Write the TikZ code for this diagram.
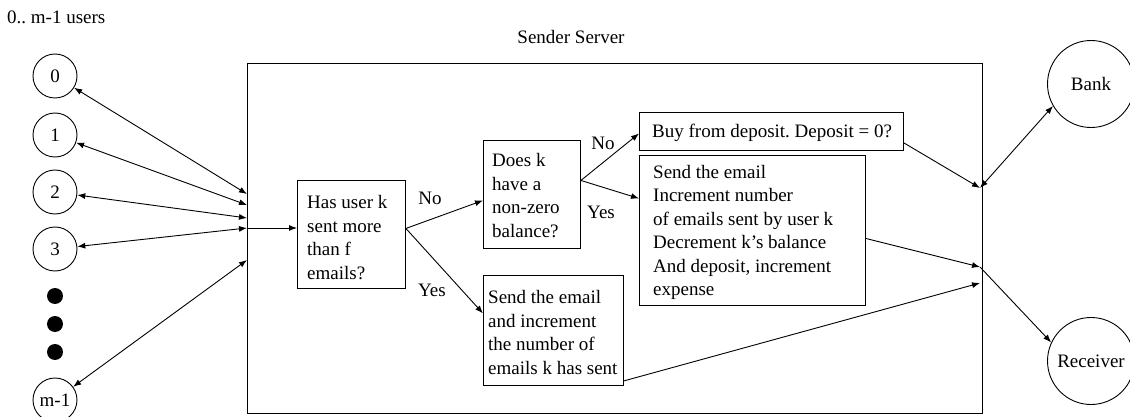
\documentclass[tikz,border=0pt]{standalone}
\usepackage{fontspec}
\setmainfont{Liberation Serif}
\usetikzlibrary{arrows.meta,calc}
\begin{document}
\frenchspacing
\begin{tikzpicture}[x=1pt,y=-1pt,
  every node/.style={font=\fontsize{19}{23.5}\selectfont},
  conn/.style={line width=0.9pt},
  >={Latex[length=8pt,width=6pt]},
  box/.style={draw, line width=0.9pt, inner sep=0pt, anchor=north west},
  txt/.style={align=left, inner sep=0pt, anchor=west},
  user/.style={draw, line width=0.9pt, circle, minimum size=44pt, inner sep=0pt},
  dotnode/.style={fill, circle, minimum size=16pt, inner sep=0pt},
  ext/.style={draw, line width=0.9pt, circle, minimum size=87pt, inner sep=0pt}]
\useasboundingbox (0,0) rectangle (1130,417);

% title and server
\node[anchor=west, inner sep=0pt] (title) at (7,17) {0.. m-1 users};
\node[draw, line width=0.9pt, minimum width=735pt, minimum height=350pt, anchor=north west, inner sep=0pt] (srv) at (247,63) {};
\node (srvlbl) at (571,37) {Sender Server};

% users
\node[user] (u0) at (55,76) {0};
\node[user] (u1) at (55,135) {1};
\node[user] (u2) at (55,192) {2};
\node[user] (u3) at (55,249) {3};
\node[dotnode] (d1) at (55,296) {};
\node[dotnode] (d2) at (55,324) {};
\node[dotnode] (d3) at (55,352) {};
\node[user] (um) at (55,400) {m-1};

\coordinate (p0) at (247,194);
\coordinate (p1) at (247,205);
\coordinate (p2) at (247,218);
\coordinate (p3) at (247,228);
\coordinate (pm) at (247,260);
\draw[conn,<->] (u0) -- (p0);
\draw[conn,<->] (u1) -- (p1);
\draw[conn,<->] (u2) -- (p2);
\draw[conn,<->] (u3) -- (p3);
\draw[conn,<->] (um) -- (pm);

% boxes
\node[box, minimum width=108pt, minimum height=108pt] (b1) at (297,180) {};
\node[txt] (t1) at ($(b1.west)+(10,3)$) {Has user k\\sent more\\than f\\emails?};
\node[box, minimum width=97pt, minimum height=108pt] (b2) at (483,140) {};
\node[txt] (t2) at ($(b2.west)+(9,1)$) {Does k\\have a\\non-zero\\balance?};
\node[box, minimum width=140pt, minimum height=110pt] (b3) at (483,275) {};
\node[txt] (t3) at ($(b3.west)+(5,2)$) {Send the email\\and increment\\the number of\\emails k has sent};
\node[box, minimum width=264pt, minimum height=38pt] (b4) at (639,112) {};
\node[txt] (t4) at ($(b4.west)+(13,1)$) {Buy from deposit. Deposit = 0?};
\node[box, minimum width=226pt, minimum height=150pt] (b5) at (639,155) {};
\node[txt] (t5) at ($(b5.west)+(14,2)$) {Send the email\\Increment number\\of emails sent by user k\\Decrement k’s balance\\And deposit, increment\\expense};

% external
\node[ext] (bank) at (1091,84) {Bank};
\node[ext] (rec) at (1091,361) {Receiver};

% flow
\draw[conn,->] (p3) -- (b1.west |- p3);
\coordinate (s1) at ($(b1.east)+(0,-6)$);
\draw[conn,->] (s1) -- ($(b2.west)+(0,6)$);
\draw[conn,->] (s1) -- ($(b3.west)+(0,-17)$);
\node (no1) at (430,198) {No};
\node (yes1) at (432,290) {Yes};

\coordinate (s2) at ($(b2.east)+(0,-14)$);
\draw[conn,->] (s2) -- ($(b4.west)+(0,2)$);
\draw[conn,->] (s2) -- ($(b5.west)+(0,-32)$);
\node (no2) at (603,143) {No};
\node (yes2) at (601,212) {Yes};

\coordinate (hb) at (980,188);
\coordinate (hr) at (980,267);
\coordinate (h3) at (980,283);
\draw[conn,->] ($(b4.south east)+(0,-8)$) -- (hb);
\draw[conn,->] ($(b5.east)+(0,8)$) -- (hr);
\draw[conn,->] ($(b3.south east)+(0,-5)$) -- (h3);
\draw[conn,<->] (hb) -- (bank.210);
\draw[conn,->] (hr) -- (rec.155);
\end{tikzpicture}
\end{document}
